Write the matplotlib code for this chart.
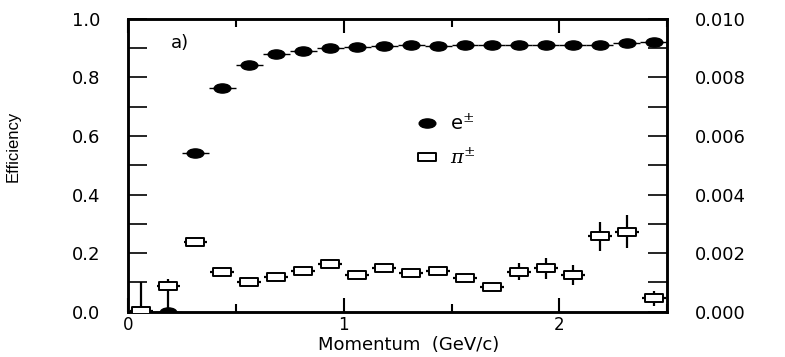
#!/usr/bin/env python3
# coding: utf-8

"""
Efficiency vs momentum: electrons (left scale) and pions (right scale)
"""

import numpy as np
import matplotlib
matplotlib.use('Agg')
import matplotlib.pyplot as plt
from matplotlib.path import Path
from matplotlib.transforms import Affine2D
from matplotlib.lines import Line2D
from matplotlib.ticker import MultipleLocator, FormatStrFormatter

plt.rcParams['font.family'] = ['DejaVu Sans']
plt.rcParams['mathtext.fontset'] = 'dejavuserif'

# 电子效率 (左轴)
e_momentum = [0.1875, 0.3125, 0.4375, 0.5625, 0.6875, 0.8125, 0.9375, 1.0625,
              1.1875, 1.3125, 1.4375, 1.5625, 1.6875, 1.8125, 1.9375, 2.0625,
              2.1875, 2.3125, 2.4375]
e_eff = [0.0, 0.543, 0.765, 0.842, 0.879, 0.892, 0.900, 0.905,
         0.909, 0.911, 0.909, 0.910, 0.911, 0.911, 0.911, 0.911,
         0.912, 0.917, 0.922]

# π 误识别率 (右轴)
pi_momentum = [0.0625, 0.1875, 0.3125, 0.4375, 0.5625, 0.6875, 0.8125, 0.9375,
               1.0625, 1.1875, 1.3125, 1.4375, 1.5625, 1.6875, 1.8125, 1.9375,
               2.0625, 2.1875, 2.3125, 2.4375]
pi_eff = [0.00002, 0.00088, 0.00237, 0.00135, 0.00100, 0.00119, 0.00140, 0.00163,
          0.00124, 0.00148, 0.00131, 0.00140, 0.00114, 0.00083, 0.00137, 0.00148,
          0.00125, 0.00259, 0.00273, 0.00046]
pi_err_lo = [0.00002, 0.00088, 0.00005, 0.00005, 0.00005, 0.00005, 0.00005, 0.00005,
             0.00005, 0.00005, 0.00006, 0.00006, 0.00010, 0.00010, 0.00030, 0.00035,
             0.00034, 0.00052, 0.00057, 0.00028]
pi_err_hi = [0.00098, 0.00023, 0.00005, 0.00005, 0.00005, 0.00005, 0.00005, 0.00005,
             0.00005, 0.00005, 0.00006, 0.00006, 0.00010, 0.00010, 0.00028, 0.00034,
             0.00034, 0.00048, 0.00057, 0.00026]

# 椭圆和扁矩形标记 (原图横向拉伸)
ellipse = Path.unit_circle().transformed(Affine2D().scale(1.0, 0.55))
rect = Path([(-1, -0.47), (1, -0.47), (1, 0.47), (-1, 0.47), (-1, -0.47)],
            [Path.MOVETO, Path.LINETO, Path.LINETO, Path.LINETO, Path.CLOSEPOLY])

fig = plt.figure(figsize=(7.85, 3.57), dpi=100)
ax = fig.add_axes([0.163, 0.127, 0.687, 0.820])
ax2 = ax.twinx()

# 电子
ax.errorbar(e_momentum, e_eff, xerr=0.0625, fmt='none', ecolor='black', elinewidth=1.0)
ax.plot(e_momentum, e_eff, linestyle='none', marker=ellipse, markersize=12,
        color='black', zorder=3)

# π
ax2.errorbar(pi_momentum, pi_eff, xerr=0.055, yerr=[pi_err_lo, pi_err_hi], fmt='none',
             ecolor='black', elinewidth=1.6, capsize=0)
ax2.plot(pi_momentum, pi_eff, linestyle='none', marker=rect, markersize=12.5,
         markerfacecolor='white', markeredgecolor='black', markeredgewidth=1.4, zorder=3)

# 坐标范围
ax.set_xlim(0, 2.5)
ax.set_ylim(0, 1.0)
ax2.set_ylim(0, 0.010)

ax.xaxis.set_major_locator(MultipleLocator(1))
ax.xaxis.set_minor_locator(MultipleLocator(0.5))
ax.yaxis.set_major_locator(MultipleLocator(0.2))
ax.yaxis.set_minor_locator(MultipleLocator(0.1))
ax2.yaxis.set_major_locator(MultipleLocator(0.002))
ax2.yaxis.set_minor_locator(MultipleLocator(0.001))
ax.yaxis.set_major_formatter(FormatStrFormatter('%.1f'))
ax2.yaxis.set_major_formatter(FormatStrFormatter('%.3f'))

ax.tick_params(axis='x', which='major', direction='in', length=10, width=1.5,
               top=True, labelsize=12, pad=3)
ax.tick_params(axis='x', which='minor', direction='in', length=5.5, width=1.5, top=True)
ax.tick_params(axis='y', which='both', direction='in', length=14, width=1.2,
               labelsize=13, pad=20)
ax2.tick_params(axis='y', which='both', direction='in', length=14, width=1.2,
                labelsize=13, pad=20)

for a in (ax, ax2):
    for sp in a.spines.values():
        sp.set_linewidth(1.8)

# 标签
ax.set_xlabel('Momentum  (GeV/c)', fontsize=13)
ax.xaxis.set_label_coords(0.52, -0.083)
ax.set_ylabel('Efficiency', fontsize=12, family=['Liberation Sans'])
ax.yaxis.set_label_coords(-0.199, 0.566)

ax.text(0.24, 0.918, 'a)', fontsize=13, ha='center', va='center')

# 图例
handles = [Line2D([], [], linestyle='none', marker=ellipse, markersize=12, color='black'),
           Line2D([], [], linestyle='none', marker=rect, markersize=12.5,
                  markerfacecolor='white', markeredgecolor='black', markeredgewidth=1.4)]
ax.legend(handles, [r'e$^{\pm}$', r'$\pi^{\pm}$'], loc='center left',
          bbox_to_anchor=(0.50, 0.585), frameon=False, fontsize=14,
          handlelength=1.2, handletextpad=0.6, labelspacing=0.7)

plt.savefig('out.png', dpi=100)
print('out.png is saved.')
